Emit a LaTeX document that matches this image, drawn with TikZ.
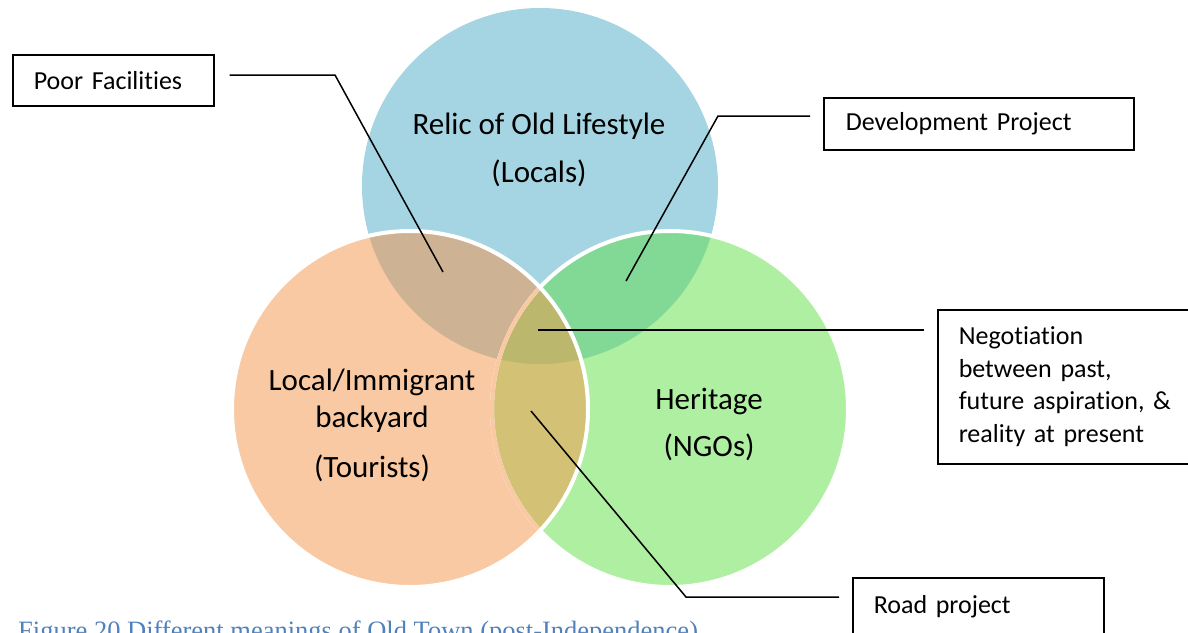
\documentclass[tikz,border=0pt]{standalone}
\usepackage{fontspec}
\setmainfont{Carlito}[Ligatures=NoCommon]
\newfontfamily\figcapfont{Liberation Serif}

\definecolor{localsblue}{HTML}{A5D5E2}
\definecolor{touristorange}{HTML}{F9C9A3}
\definecolor{ngogreen}{HTML}{AFEFA1}
\definecolor{localtour}{HTML}{CDB394}
\definecolor{localngo}{HTML}{82D995}
\definecolor{tourngo}{HTML}{D3C275}
\definecolor{allthree}{HTML}{BBB86D}
\definecolor{capblue}{HTML}{4F81BD}

\tikzset{
	venntext/.style={align=center, font=\fontsize{31}{37}\selectfont},
	callbox/.style={draw, line width=1.5pt, anchor=north west, align=left, inner ysep=0pt, inner xsep=21pt, font=\fontsize{26}{32.6}\selectfont},
	leader/.style={line width=1.5pt},
	rim/.style={draw=white, line width=4pt}
}

\begin{document}
\begin{tikzpicture}[x=1pt, y=-1pt]
		\useasboundingbox (0,0) rectangle (1188,632);
		\coordinate (locals) at (540,186);
		\coordinate (tourists) at (410,409);
		\coordinate (ngos) at (670,409);

		\fill [localsblue] (locals) circle (178pt);
		\fill [ngogreen] (ngos) circle (178pt);
		\fill [touristorange] (tourists) circle (178pt);
		\begin{scope} % locals + tourists
			\clip (locals) circle (178pt);
			\fill [localtour] (tourists) circle (178pt);
		\end{scope}
		\begin{scope} % locals + ngos
			\clip (locals) circle (178pt);
			\fill [localngo] (ngos) circle (178pt);
		\end{scope}
		\begin{scope} % tourists + ngos
			\clip (tourists) circle (178pt);
			\fill [tourngo] (ngos) circle (178pt);
		\end{scope}

		% Draw the middle, where all three meet.
		\begin{scope}
			\clip (locals) circle (178pt);
			\clip (tourists) circle (178pt);
			\fill [allthree] (ngos) circle (178pt);
		\end{scope}

		% white rims, the green one shows orange under the orange circle
		\draw [rim] (ngos) circle (178pt);
		\begin{scope}
			\clip (tourists) circle (178pt);
			\draw [rim, draw=touristorange] (ngos) circle (178pt);
		\end{scope}
		\draw [rim] (tourists) circle (178pt);

		\node [venntext] (relic) at (539,150) {Relic of Old Lifestyle\\[11pt](Locals)};
		\node [venntext] (backyard) at (372,425) {Local/Immigrant\\backyard\\[13pt](Tourists)};
		\node [venntext] (heritage) at (709,424) {Heritage\\[10pt](NGOs)};

		\node [callbox, text width=159pt, minimum height=51pt] (poor) at (12,54) {Poor Facilities};
		\node [callbox, text width=266pt, inner xsep=22pt, minimum height=52pt] (devproj) at (823,97) {Development Project};
		\node [callbox, text width=220pt, minimum height=154pt] (negot) at (937,309) {Negotiation\\between past,\\future aspiration, \&\\reality at present};
		\node [callbox, text width=209pt, minimum height=58pt] (road) at (852,577) {Road project};

		\coordinate (pf-tip) at (443,272);
		\coordinate (pf-knee) at (335,75);
		\coordinate (dp-tip) at (626,281);
		\coordinate (dp-knee) at (718,116);
		\coordinate (ng-tip) at (538,330);
		\coordinate (rp-tip) at (531,411);
		\coordinate (rp-knee) at (686,597);
		\draw [leader] (pf-tip) -- (pf-knee) -- ([xshift=15pt]poor.east |- pf-knee);
		\draw [leader] (dp-tip) -- (dp-knee) -- ([xshift=-13pt]devproj.west |- dp-knee);
		\draw [leader] (ng-tip) -- ([xshift=-13pt]negot.west |- ng-tip);
		\draw [leader] (rp-tip) -- (rp-knee) -- ([xshift=-13pt]road.west |- rp-knee);

		\node [anchor=base west, inner sep=0pt, text=capblue, font=\figcapfont\fontsize{26.5}{30}\selectfont] (caption) at (18,639) {Figure 20 Different meanings of Old Town (post-Independence)};
	\end{tikzpicture}
\end{document}
